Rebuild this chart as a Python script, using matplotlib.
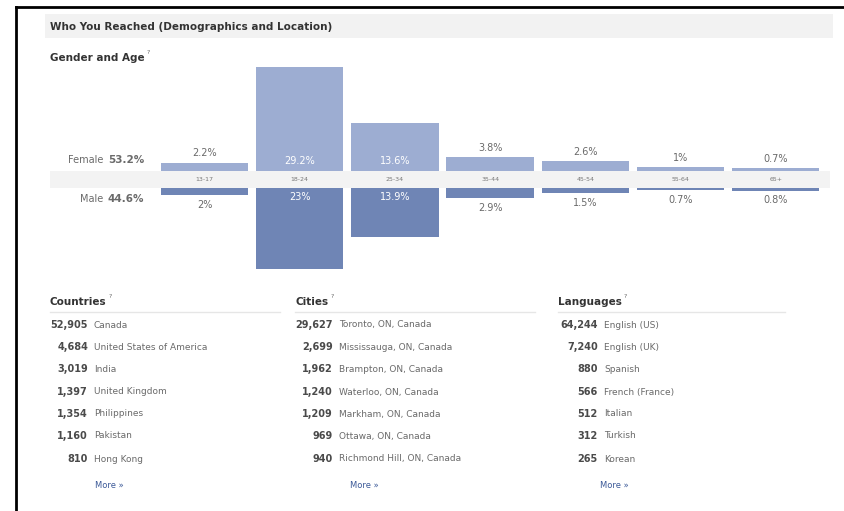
import matplotlib.pyplot as plt
from matplotlib.patches import Rectangle
from matplotlib.lines import Line2D

# ---- data ----
age_groups = ["13-17", "18-24", "25-34", "35-44", "45-54", "55-64", "65+"]
female_pct = [2.2, 29.2, 13.6, 3.8, 2.6, 1.0, 0.7]
male_pct = [2.0, 23.0, 13.9, 2.9, 1.5, 0.7, 0.8]
female_total = "53.2%"
male_total = "44.6%"

countries = ["Canada", "United States of America", "India", "United Kingdom",
             "Philippines", "Pakistan", "Hong Kong"]
country_counts = ["52,905", "4,684", "3,019", "1,397", "1,354", "1,160", "810"]

cities = ["Toronto, ON, Canada", "Mississauga, ON, Canada", "Brampton, ON, Canada",
          "Waterloo, ON, Canada", "Markham, ON, Canada", "Ottawa, ON, Canada",
          "Richmond Hill, ON, Canada"]
city_counts = ["29,627", "2,699", "1,962", "1,240", "1,209", "969", "940"]

languages = ["English (US)", "English (UK)", "Spanish", "French (France)",
             "Italian", "Turkish", "Korean"]
language_counts = ["64,244", "7,240", "880", "566", "512", "312", "265"]

W, H = 844, 511
FEMALE_C = "#9dadd2"
MALE_C = "#6f85b5"
TXT = "#333333"
GREY = "#6a6a6a"
LINK = "#3b5998"

fig = plt.figure(figsize=(W / 100, H / 100), dpi=100)
fig.patch.set_facecolor("white")
renderer = fig.canvas.get_renderer()

# background axes in pixel coordinates for frame, header, tables
bg = fig.add_axes([0, 0, 1, 1])
bg.set_xlim(0, W)
bg.set_ylim(H, 0)
bg.axis("off")


def header(x, y, label):
    # bold header followed by a small superscript "?"
    t = bg.text(x, y, label, fontsize=7.5, fontweight="bold", color=TXT, va="center")
    bb = t.get_window_extent(renderer=renderer)
    bg.text(bb.x1 + 2, y - 5, "?", fontsize=4.5, color=GREY, va="center")


# frame lines (top and left)
bg.add_line(Line2D([16, W], [7, 7], color="black", lw=2))
bg.add_line(Line2D([16, 16], [7, H], color="black", lw=2))

# title band
bg.add_patch(Rectangle((45, 14), 788, 24, color="#f2f2f2", lw=0))
bg.text(50, 27, "Who You Reached (Demographics and Location)", fontsize=7.5,
        fontweight="bold", color=TXT, va="center")
header(50, 58, "Gender and Age")

# gender totals
bg.text(103, 160, "Female", fontsize=7, color=GREY, va="center", ha="right")
bg.text(108, 160, female_total, fontsize=7.5, fontweight="bold", color=GREY, va="center")
bg.text(103, 199, "Male", fontsize=7, color=GREY, va="center", ha="right")
bg.text(108, 199, male_total, fontsize=7.5, fontweight="bold", color=GREY, va="center")

# ---- bar chart axes ----
px_top, px_bot = 55, 280
px_left, px_right = 50, 830
ax = fig.add_axes([px_left / W, 1 - px_bot / H, (px_right - px_left) / W, (px_bot - px_top) / H])
ax.axis("off")
center_px = 179.3
scale = 3.535  # px per percent
step = 95.2
ax.set_ylim(-(px_bot - center_px) / scale, (center_px - px_top) / scale)
ax.set_xlim(-(204.5 - px_left) / step, (px_right - 204.5) / step)

gap = 8.7 / scale
xs = list(range(len(age_groups)))
ax.axhspan(-gap, gap, color="#f3f3f3", lw=0, zorder=0)
ax.bar(xs, female_pct, width=0.92, bottom=gap, color=FEMALE_C, zorder=2)
ax.bar(xs, [-v for v in male_pct], width=0.92, bottom=-gap, color=MALE_C, zorder=2)

off = 9.5 / scale
for x, lab, f, m in zip(xs, age_groups, female_pct, male_pct):
    ax.text(x, 0, lab, fontsize=4.5, color="#777777", ha="center", va="center")
    fl = "%g%%" % f
    ml = "%g%%" % m
    if f > 5:
        ax.text(x, gap + off, fl, fontsize=7, color="white", ha="center", va="center", zorder=3)
    else:
        ax.text(x, gap + f + off, fl, fontsize=7, color=GREY, ha="center", va="center")
    if m > 5:
        ax.text(x, -gap - off, ml, fontsize=7, color="white", ha="center", va="center", zorder=3)
    else:
        ax.text(x, -gap - m - off, ml, fontsize=7, color=GREY, ha="center", va="center")

# ---- lists ----
sections = [
    ("Countries", 50, 280, 88, 95, countries, country_counts),
    ("Cities", 295, 535, 333, 350, cities, city_counts),
    ("Languages", 558, 785, 598, 600, languages, language_counts),
]
row_y = [325, 347, 369, 392, 414, 436, 459]
for title, x0, x1, num_x, more_x, names, counts in sections:
    header(x0, 302, title)
    bg.add_line(Line2D([x0, x1], [312, 312], color="#e6e6e6", lw=1))
    for y, name, cnt in zip(row_y, names, counts):
        bg.text(num_x, y, cnt, fontsize=7, fontweight="bold", color="#4a4a4a",
                ha="right", va="center")
        bg.text(num_x + 6, y, name, fontsize=6.5, color=GREY, va="center")
    bg.text(more_x, 486, "More \u00bb", fontsize=6, color=LINK, va="center")

fig.savefig("out.png", dpi=100, facecolor="white")
